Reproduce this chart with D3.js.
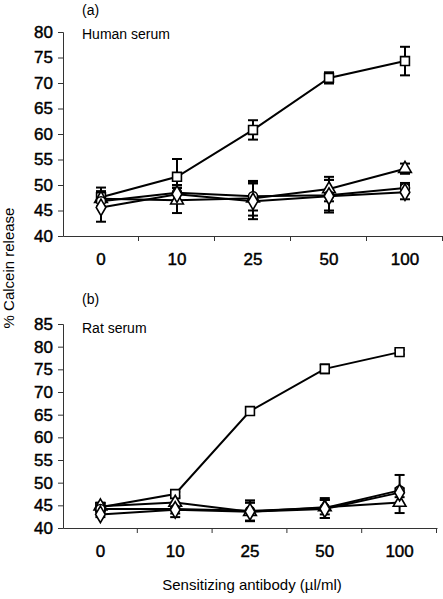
<!DOCTYPE html>
<html><head><meta charset="utf-8">
<script src="https://cdn.jsdelivr.net/npm/d3@7"></script>
<style>body{margin:0;background:#fff}svg{display:block}text{font-family:"Liberation Sans",Arial,sans-serif;fill:#000}</style>
</head><body><svg id="c" width="443" height="599"></svg>
<script>
const categories = ["0","10","25","50","100"];
const yTicksA = [40,45,50,55,60,65,70,75,80];
const yTicksB = [40,45,50,55,60,65,70,75,80,85];
const seriesKeys = ["square","triangle","circle","diamond"];

// Panel (a) Human serum
const aSquare = [47.6, 51.6, 60.8, 71.0, 74.3];
const aSquareErr = [1.9, 3.5, 1.9, 1.1, 2.8];
const aTriangle = [47.3, 47.0, 47.4, 49.2, 53.2];
const aTriangleErr = [1.5, 2.5, 3.4, 2.4, 1.0];
const aCircle = [46.8, 48.5, 47.8, 48.0, 49.4];
const aCircleErr = [1.2, 1.5, 2.8, 3.0, 1.0];
const aDiamond = [45.6, 48.2, 46.8, 47.8, 48.6];
const aDiamondErr = [2.8, 1.2, 3.5, 3.2, 1.4];

// Panel (b) Rat serum
const bSquare = [44.6, 47.5, 65.8, 75.1, 78.8];
const bSquareErr = [0.8, 0.5, 0.8, 1.0, 0.5];
const bTriangle = [44.8, 45.6, 43.6, 44.6, 45.6];
const bTriangleErr = [0.8, 1.0, 2.0, 1.6, 2.3];
const bCircle = [44.2, 44.2, 43.8, 44.4, 48.3];
const bCircleErr = [0.8, 1.0, 2.3, 2.2, 3.4];
const bDiamond = [43.0, 44.0, 43.6, 44.2, 47.8];
const bDiamondErr = [0.6, 1.6, 2.0, 2.0, 1.0];

const svg = d3.select("#c");

const symbolMap = {
  square: d3.symbolSquare,
  triangle: d3.symbolTriangle,
  circle: d3.symbolCircle,
  diamond: d3.symbolDiamond
};
const symbolSize = {square: 78, triangle: 70, circle: 64, diamond: 80};

function styleTickText(sel) {
  sel.attr("font-size", 17).attr("font-weight", "normal")
    .style("fill", "#000").style("stroke", "#000").style("stroke-width", 0.45);
}

function panel(cfg) {
  const x = d3.scaleBand().domain(categories).range(cfg.xr);
  const y = d3.scaleLinear().domain([40, cfg.ymax]).range(cfg.yr);
  const g = svg.append("g");

  const ya = g.append("g").attr("transform", `translate(${cfg.xr[0]},0)`)
    .call(d3.axisLeft(y).tickValues(cfg.yTicks).tickSize(5).tickPadding(5));
  styleTickText(ya.selectAll("text"));
  ya.selectAll("line,path").attr("stroke", "#333");

  const xa = g.append("g").attr("transform", `translate(0,${cfg.yr[0]})`)
    .call(d3.axisBottom(x).tickSize(0).tickPadding(17));
  styleTickText(xa.selectAll("text"));
  xa.select("path").attr("stroke", "#333");
  const bounds = categories.map(c => x(c) + x.bandwidth());
  xa.selectAll(".bt").data(bounds).enter().append("line")
    .attr("x1", d => d - 0.5).attr("x2", d => d - 0.5).attr("y1", 0).attr("y2", 5).attr("stroke", "#333");

  const cx = c => x(c) + x.bandwidth() / 2;
  const line = d3.line().x((d, i) => cx(categories[i])).y(d => y(d));

  cfg.series.forEach(s => {
    g.append("path").datum(s.values).attr("d", line)
      .attr("fill", "none").attr("stroke", "#000").attr("stroke-width", 2);
  });
  cfg.series.forEach(s => {
    s.values.forEach((v, i) => {
      const px = cx(categories[i]);
      const e = s.err[i];
      const eg = g.append("g").attr("stroke", "#000").attr("stroke-width", 2);
      eg.append("line").attr("x1", px).attr("x2", px).attr("y1", y(v + e)).attr("y2", y(v - e));
      eg.append("line").attr("x1", px - 5).attr("x2", px + 5).attr("y1", y(v + e)).attr("y2", y(v + e));
      eg.append("line").attr("x1", px - 5).attr("x2", px + 5).attr("y1", y(v - e)).attr("y2", y(v - e));
    });
  });
  cfg.series.forEach(s => {
    g.selectAll(null).data(s.values).enter().append("path")
      .attr("d", d3.symbol().type(symbolMap[s.key]).size(symbolSize[s.key]))
      .attr("transform", (d, i) => `translate(${cx(categories[i])},${y(d)})`)
      .attr("fill", "#fff").attr("stroke", "#000").attr("stroke-width", 1.6);
  });

  g.append("text").attr("x", 82).attr("y", cfg.labelY).attr("font-size", 14).text(cfg.label);
  g.append("text").attr("x", 82).attr("y", cfg.titleY).attr("font-size", 14).text(cfg.title);
}

panel({
  xr: [63, 443], yr: [236, 32], ymax: 80, yTicks: yTicksA,
  label: "(a)", labelY: 15, title: "Human serum", titleY: 39,
  series: [
    {key: "square", values: aSquare, err: aSquareErr},
    {key: "triangle", values: aTriangle, err: aTriangleErr},
    {key: "circle", values: aCircle, err: aCircleErr},
    {key: "diamond", values: aDiamond, err: aDiamondErr}
  ]
});
panel({
  xr: [63, 437], yr: [528, 324], ymax: 85, yTicks: yTicksB,
  label: "(b)", labelY: 304, title: "Rat serum", titleY: 333,
  series: [
    {key: "square", values: bSquare, err: bSquareErr},
    {key: "triangle", values: bTriangle, err: bTriangleErr},
    {key: "circle", values: bCircle, err: bCircleErr},
    {key: "diamond", values: bDiamond, err: bDiamondErr}
  ]
});

svg.append("text").attr("transform", "translate(14,268) rotate(-90)")
  .attr("text-anchor", "middle").attr("font-size", 15).text("% Calcein release");
svg.append("text").attr("x", 252).attr("y", 590)
  .attr("text-anchor", "middle").attr("font-size", 15).text("Sensitizing antibody (µl/ml)");
</script></body></html>
